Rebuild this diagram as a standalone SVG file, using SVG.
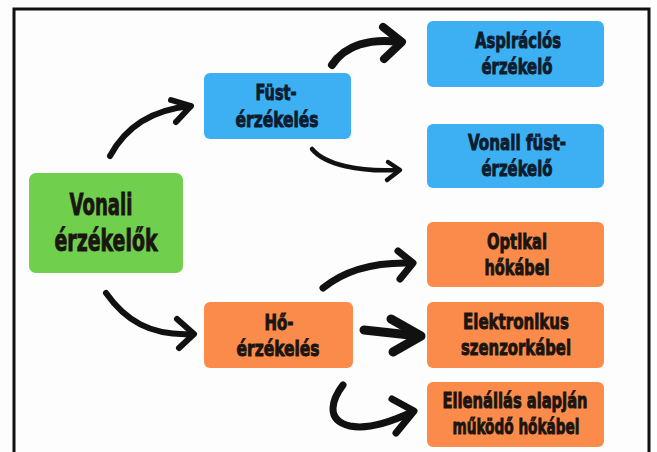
<svg xmlns="http://www.w3.org/2000/svg" width="657" height="452" viewBox="0 0 657 452">
  <style>
    .box { stroke: none; }
    .blue { fill: #3cb0f2; }
    .green { fill: #70cf4c; }
    .orange { fill: #fa8b4b; }
    .t { font-family: "Liberation Sans Narrow", "DejaVu Sans Condensed", "Liberation Sans", sans-serif; font-weight: bold; text-anchor: middle; stroke-width: 0.9; }
    .s { font-size: 22px; }
    .l { font-size: 30px; }
    .tb { fill: #0e1c2e; stroke: #0e1c2e; }
    .td { fill: #1a1510; stroke: #1a1510; }
    .arr { fill: none; stroke: #111; stroke-linecap: round; stroke-linejoin: round; }
  </style>
  <rect x="0" y="0" width="657" height="452" fill="#fdfdfd"/>
  <path d="M14,454 L14,9 L649,9 L649,454" fill="none" stroke="#111" stroke-width="3"/>

  <g id="vonali-erzekelok">
    <rect class="box green" x="29" y="173" width="154" height="100" rx="7"/>
    <text class="t l td" x="101" y="215" textLength="63" lengthAdjust="spacingAndGlyphs">Vonali</text>
    <text class="t l td" x="106" y="251" textLength="103" lengthAdjust="spacingAndGlyphs">érzékelők</text>
  </g>

  <g id="fust-erzekeles">
    <rect class="box blue" x="204" y="73" width="147" height="66" rx="6"/>
    <text class="t s tb" x="276" y="100" textLength="41" lengthAdjust="spacingAndGlyphs">Füst-</text>
    <text class="t s tb" x="277" y="127" textLength="83" lengthAdjust="spacingAndGlyphs">érzékelés</text>
  </g>

  <g id="ho-erzekeles">
    <rect class="box orange" x="204" y="302" width="149" height="66" rx="6"/>
    <text class="t s td" x="279" y="330" textLength="29" lengthAdjust="spacingAndGlyphs">Hő-</text>
    <text class="t s td" x="278" y="356" textLength="83" lengthAdjust="spacingAndGlyphs">érzékelés</text>
  </g>

  <g id="aspiracios-erzekelo">
    <rect class="box blue" x="427" y="21" width="177" height="66" rx="6"/>
    <text class="t s tb" x="518" y="48" textLength="86" lengthAdjust="spacingAndGlyphs">Aspirációs</text>
    <text class="t s tb" x="517" y="74" textLength="71" lengthAdjust="spacingAndGlyphs">érzékelő</text>
  </g>

  <g id="vonali-fust-erzekelo">
    <rect class="box blue" x="427" y="124" width="177" height="64" rx="6"/>
    <text class="t s tb" x="517" y="150" textLength="98" lengthAdjust="spacingAndGlyphs">Vonali füst-</text>
    <text class="t s tb" x="517" y="176" textLength="71" lengthAdjust="spacingAndGlyphs">érzékelő</text>
  </g>

  <g id="optikai-hokabel">
    <rect class="box orange" x="427" y="222" width="177" height="65" rx="6"/>
    <text class="t s td" x="517" y="249" textLength="60" lengthAdjust="spacingAndGlyphs">Optikai</text>
    <text class="t s td" x="517" y="275" textLength="65" lengthAdjust="spacingAndGlyphs">hőkábel</text>
  </g>

  <g id="elektronikus-szenzorkabel">
    <rect class="box orange" x="427" y="302" width="177" height="66" rx="6"/>
    <text class="t s td" x="516" y="329" textLength="106" lengthAdjust="spacingAndGlyphs">Elektronikus</text>
    <text class="t s td" x="516" y="355" textLength="110" lengthAdjust="spacingAndGlyphs">szenzorkábel</text>
  </g>

  <g id="ellenallas-hokabel">
    <rect class="box orange" x="427" y="382" width="177" height="65" rx="6"/>
    <text class="t s td" x="515" y="408" textLength="145" lengthAdjust="spacingAndGlyphs">Ellenállás alapján</text>
    <text class="t s td" x="516" y="434" textLength="127" lengthAdjust="spacingAndGlyphs">működő hőkábel</text>
  </g>

  <g id="connectors">
    <path class="arr" stroke-width="6" d="M110,156 C125,128 150,110 190,106"/>
    <path class="arr" stroke-width="6" d="M171,100 L191,106 L176,122"/>

    <path class="arr" stroke-width="8" d="M332,65 C345,45 370,38 400,42"/>
    <path class="arr" stroke-width="8" d="M383,27 L402,42 L384,59"/>

    <path class="arr" stroke-width="4.5" d="M312,149 C325,165 360,172 398,170"/>
    <path class="arr" stroke-width="4.5" d="M388,162 L400,170 L387,180"/>

    <path class="arr" stroke-width="6" d="M106,293 C125,320 150,336 192,334"/>
    <path class="arr" stroke-width="6" d="M177,319 L194,334 L179,348"/>

    <path class="arr" stroke-width="7" d="M323,288 C345,270 375,262 411,263"/>
    <path class="arr" stroke-width="7" d="M398,251 L413,263 L400,279"/>

    <path class="arr" stroke-width="9" d="M364,330 L419,336"/>
    <path class="arr" stroke-width="9" d="M391,319 L421,336 L393,352"/>

    <path class="arr" stroke-width="7" d="M343,385 C333,398 324,420 350,426 C370,430 395,420 412,412"/>
    <path class="arr" stroke-width="7" d="M392,399 L414,411 L396,433"/>
  </g>
</svg>
